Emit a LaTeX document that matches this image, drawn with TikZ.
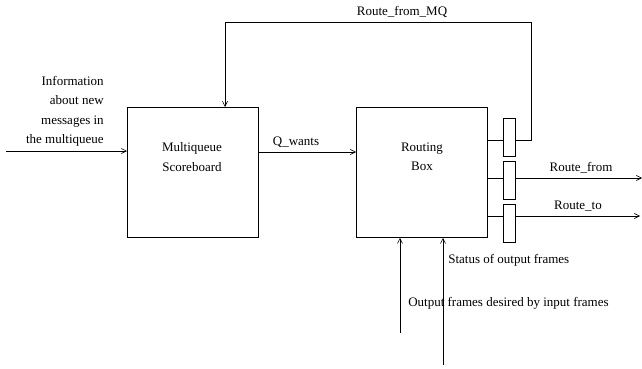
\documentclass[tikz,border=0pt]{standalone}
\usepackage{fontspec}
\setmainfont{Liberation Serif}
\usetikzlibrary{arrows.meta}
\begin{document}
\begin{tikzpicture}[x=1pt,y=-1pt,line width=0.6pt,
  every node/.style={font=\fontsize{13}{19.3}\selectfont},
  bigbox/.style={draw,line width=0.8pt,minimum width=131pt,minimum height=130pt,inner sep=0pt,anchor=north west},
  latch/.style={draw,line width=0.8pt,minimum width=12pt,minimum height=38pt,inner sep=0pt},
  lbl/.style={inner sep=0pt},
  arr/.style={-{Straight Barb[length=5pt,width=5pt]}}]
\useasboundingbox (0,0) rectangle (642,369);
% boxes
\node[bigbox] (mq) at (127,107) {};
\node[bigbox] (rb) at (356,107) {};
\node[lbl,align=center] (mqt) at (192,157) {Multiqueue\\Scoreboard};
\node[lbl,align=center] (rbt) at (422,157) {Routing\\Box};
% latches
\node[latch] (s1) at (509,137) {};
\node[latch] (s2) at (509,180) {};
\node[latch] (s3) at (509,223) {};
% helper coordinates
\coordinate (in) at (6,151);
\coordinate (qy) at (0,152);
\coordinate (l1) at (0,140);
\coordinate (l2) at (0,178);
\coordinate (l3) at (0,216);
\coordinate (fb) at (531,22);
\coordinate (mqin) at (225,107);
\coordinate (o2) at (642,178);
\coordinate (o3) at (640,216);
\coordinate (b1) at (400,333);
\coordinate (b2) at (443,365);
% connectors
\draw[arr] (in) -- (in -| mq.west);
\draw[arr] (mq.east |- qy) -- (rb.west |- qy);
\draw (rb.east |- l1) -- (s1.west |- l1);
\draw (rb.east |- l2) -- (s2.west |- l2);
\draw (rb.east |- l3) -- (s3.west |- l3);
\draw[arr] (s1.east |- l1) -| (fb) -| (mqin);
\draw[arr] (s2.east |- l2) -- (o2);
\draw[arr] (s3.east |- l3) -- (o3);
\draw[arr] (b1) -- (b1 |- rb.south);
\draw[arr] (b2) -- (b2 |- rb.south);
% labels
\node[lbl,align=right,anchor=north east] (info) at (104,76) {Information\\about new\\messages in\\the multiqueue};
\node[lbl] (qw) at (296,142) {Q\_wants};
\node[lbl] (rfmq) at (402,12) {Route\_from\_MQ};
\node[lbl] (rf) at (581,168) {Route\_from};
\node[lbl] (rt) at (578,206) {Route\_to};
\node[lbl,anchor=west] (st) at (448,260) {Status of output frames};
\node[lbl,anchor=west] (od) at (408,303) {Output frames desired by input frames};
\end{tikzpicture}
\end{document}
